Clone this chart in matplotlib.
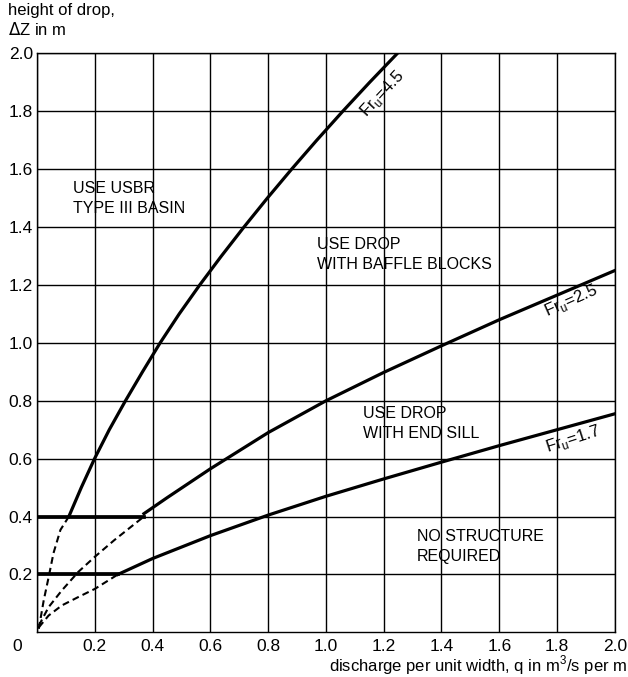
import matplotlib.pyplot as plt
from matplotlib.transforms import ScaledTranslation

plt.rcParams['font.family'] = ['Liberation Sans', 'DejaVu Sans']

# solid parts of the three curves (q, dZ)
fr45_q = [0.11, 0.153, 0.199, 0.250, 0.306, 0.365, 0.426, 0.492, 0.563, 0.638, 0.716, 0.797, 0.881, 0.968, 1.058, 1.151, 1.247]
fr45_z = [0.40, 0.50, 0.60, 0.70, 0.80, 0.90, 1.00, 1.10, 1.20, 1.30, 1.40, 1.50, 1.60, 1.70, 1.80, 1.90, 2.00]
fr25_q = [0.37, 0.45, 0.6, 0.8, 1.0, 1.2, 1.4, 1.6, 1.8, 2.0]
fr25_z = [0.41, 0.465, 0.565, 0.69, 0.80, 0.898, 0.99, 1.08, 1.165, 1.25]
fr17_q = [0.28, 0.4, 0.6, 0.8, 1.0, 1.2, 1.4, 1.6, 1.8, 2.0]
fr17_z = [0.20, 0.255, 0.334, 0.405, 0.47, 0.53, 0.588, 0.645, 0.70, 0.755]

# dashed parts from the origin
dash45_q = [0.006, 0.023, 0.040, 0.057, 0.081, 0.11]
dash45_z = [0.012, 0.11, 0.19, 0.274, 0.354, 0.40]
dash25_q = [0.006, 0.04, 0.086, 0.143, 0.2, 0.268, 0.37]
dash25_z = [0.023, 0.087, 0.145, 0.209, 0.261, 0.319, 0.40]
dash17_q = [0.006, 0.04, 0.086, 0.143, 0.2, 0.28]
dash17_z = [0.017, 0.058, 0.093, 0.122, 0.150, 0.20]

# horizontal limits
limit_z = [0.4, 0.2]
limit_q = [0.37, 0.28]

ticks = [0.2, 0.4, 0.6, 0.8, 1.0, 1.2, 1.4, 1.6, 1.8, 2.0]

fig = plt.figure(figsize=(6.28, 6.77), dpi=100)
ax = fig.add_axes([0.059, 0.066, 0.92, 0.855])

ax.set_xlim(0, 2.0)
ax.set_ylim(0, 2.0)
ax.set_xticks([0] + ticks)
ax.set_xticklabels(['0'] + ['%.1f' % t for t in ticks])
ax.set_yticks(ticks)
ax.set_yticklabels(['%.1f' % t for t in ticks])
ax.tick_params(length=0, labelsize=12.5, pad=5)
ax.tick_params(axis='y', pad=3)
ax.grid(True, color='black', lw=1.0)
for s in ax.spines.values():
    s.set_linewidth(1.0)

# push the "0" a bit to the left like in the original
zero = ax.get_xticklabels()[0]
zero.set_transform(zero.get_transform() + ScaledTranslation(-14 / 72, 0, fig.dpi_scale_trans))

lw = 2.3
ax.plot(fr45_q, fr45_z, color='black', lw=lw)
ax.plot(fr25_q, fr25_z, color='black', lw=lw)
ax.plot(fr17_q, fr17_z, color='black', lw=lw)
for z, q in zip(limit_z, limit_q):
    ax.plot([0, q], [z, z], color='black', lw=lw + 0.4)

for q, z in [(dash45_q, dash45_z), (dash25_q, dash25_z), (dash17_q, dash17_z)]:
    ax.plot(q, z, color='black', lw=1.5, ls=(0, (3.3, 2)))

fr_font = dict(ha='center', va='center', fontsize=12)
ax.text(1.195, 1.862, 'Fr$_\\mathregular{u}$=4.5', rotation=47, **fr_font)
ax.text(1.85, 1.145, 'Fr$_\\mathregular{u}$=2.5', rotation=24, **fr_font)
ax.text(1.855, 0.668, 'Fr$_\\mathregular{u}$=1.7', rotation=18, **fr_font)

zone_font = dict(fontsize=11.5, ha='left', va='center', linespacing=1.42)
ax.text(0.125, 1.50, 'USE USBR\nTYPE III BASIN', **zone_font)
ax.text(0.969, 1.305, 'USE DROP\nWITH BAFFLE BLOCKS', **zone_font)
ax.text(1.13, 0.721, 'USE DROP\nWITH END SILL', **zone_font)
ax.text(1.314, 0.295, 'NO STRUCTURE\nREQUIRED', **zone_font)

fig.text(0.013, 1 - 3 / 677, 'height of drop,\n$\\Delta$Z in m', ha='left', va='top', fontsize=12, linespacing=1.2)
fig.text(0.998, 1 - 665 / 677, 'discharge per unit width, q in m$^\\mathregular{3}$/s per m',
         ha='right', va='center', fontsize=12)

fig.savefig('out.png', dpi=100)
